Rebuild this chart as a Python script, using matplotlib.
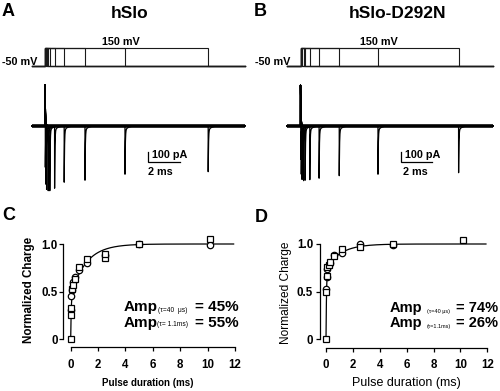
import numpy as np
import matplotlib
matplotlib.use("Agg")
import matplotlib.pyplot as plt

plt.rcParams['font.family'] = ['Liberation Sans', 'DejaVu Sans']

W, H = 500, 391
fig = plt.figure(figsize=(W / 100, H / 100), dpi=100)

# ---------------- data ----------------
pulse_durations_ms = [0.02, 0.05, 0.1, 0.2, 0.3, 0.6, 1.2, 2.5, 5.0, 10.2]
hold_mV = -50
pulse_mV = 150
tail_peak_A_pA = [-600, -640, -645, -650, -650, -625, -565, -545, -485, -460]
tail_peak_B_pA = [-520, -540, -545, -550, -545, -540, -525, -500, -485, -470]
on_peak_A_pA = 410
on_peak_B_pA = 405
tail_slow_pA = -45
tau_on_ms = 0.025
tau_tail_fast_ms = 0.02
tau_tail_slow_ms = 0.22

C_sq_t = [0, 0.02, 0.05, 0.1, 0.2, 0.3, 0.6, 1.2, 2.5, 2.5, 5.0, 10.2]
C_sq_y = [0, 0.25, 0.33, 0.53, 0.57, 0.63, 0.76, 0.84, 0.85, 0.90, 1.0, 1.05]
C_ci_t = [0.02, 0.05, 0.1, 0.2, 0.3, 0.6, 1.2, 2.5, 5.0, 10.2]
C_ci_y = [0.31, 0.45, 0.52, 0.60, 0.65, 0.73, 0.80, 0.88, 1.0, 0.99]

D_sq_t = [0, 0.02, 0.05, 0.1, 0.2, 0.3, 0.6, 1.2, 2.5, 5.0, 10.2]
D_sq_y = [0, 0.50, 0.66, 0.76, 0.78, 0.81, 0.87, 0.95, 0.97, 1.0, 1.04]
D_ci_t = [0.02, 0.05, 0.1, 0.2, 0.3, 0.6, 1.2, 2.5, 5.0]
D_ci_y = [0.53, 0.65, 0.74, 0.78, 0.80, 0.88, 0.91, 1.0, 0.99]

fit_C = (0.45, 0.04, 1.1)   # fast amplitude, tau fast (ms), tau slow (ms)
fit_D = (0.74, 0.04, 1.1)

x_ticks = [0, 2, 4, 6, 8, 10, 12]
y_ticks = [0, 0.5, 1.0]
y_ticklabels = ['0', '0.5', '1.0']


# ---------------- helpers ----------------
def px_axes(box):
    x0, x1, y0, y1 = box
    ax = fig.add_axes([x0 / W, 1 - y1 / H, (x1 - x0) / W, (y1 - y0) / H])
    return ax


def set_lims(ax, box, xa, xb, ya, yb):
    x0, x1, y0, y1 = box
    sx = (xb[1] - xa[1]) / (xb[0] - xa[0])
    ax.set_xlim(xa[0] + (x0 - xa[1]) / sx, xa[0] + (x1 - xa[1]) / sx)
    sy = (yb[1] - ya[1]) / (yb[0] - ya[0])
    ax.set_ylim(ya[0] + (y1 - ya[1]) / sy, ya[0] + (y0 - ya[1]) / sy)


def ftext(x, y, s, **kw):
    kw.setdefault('va', 'center')
    return fig.text(x / W, 1 - y / H, s, **kw)


def blank(ax):
    ax.set_axis_off()


# ---------------- titles / panel letters ----------------
ftext(2, 12, 'A', fontsize=13, fontweight='bold', ha='left')
ftext(254, 12, 'B', fontsize=13, fontweight='bold', ha='left')
ftext(2, 216, 'C', fontsize=13, fontweight='bold', ha='left')
ftext(255, 217, 'D', fontsize=13, fontweight='bold', ha='left')
ftext(130, 13, 'hSlo', fontsize=12.5, fontweight='bold', ha='center')
ftext(398, 13, 'hSlo-D292N', fontsize=12.5, fontweight='bold', ha='center')


# ---------------- voltage protocols ----------------
def protocol(box, t0px, t10px, t_start, t_end, label_150_x, label_50_right):
    ax = px_axes(box)
    blank(ax)
    set_lims(ax, box, (0, t0px), (10.2, t10px), (hold_mV, 65.7), (pulse_mV, 47.7))
    for d in pulse_durations_ms:
        t = [t_start, 0, 0, d, d, t_end]
        v = [hold_mV, hold_mV, pulse_mV, pulse_mV, hold_mV, hold_mV]
        ax.plot(t, v, color='#1a1a1a', lw=0.8, solid_joinstyle='miter')
    ftext(label_150_x, 41.7, '150 mV', fontsize=7.8, fontweight='bold', ha='center')
    ftext(label_50_right, 62.3, '-50 mV', fontsize=7.8, fontweight='bold', ha='right')


protocol((28, 250, 35, 72), 45, 208.2, -0.83, 12.5, 121, 37)
protocol((280, 498, 35, 72), 300.5, 458.6, -0.89, 12.44, 379, 290)


# ---------------- current traces ----------------
def traces(box, t0px, t10px, t_start, t_end, tails, on_peak, sb_t):
    ax = px_axes(box)
    blank(ax)
    set_lims(ax, box, (0, t0px), (10.2, t10px), (0, 125.7), (100, 115.7))
    t = np.arange(t_start, t_end, 0.002)
    ax.plot([t_start, t_end], [0, 0], color='black', lw=2.6, solid_capstyle='butt')
    for d, a in zip(pulse_durations_ms, tails):
        i = np.zeros_like(t)
        on = t >= 0
        i[on] += on_peak * np.exp(-t[on] / tau_on_ms)
        off = t >= d
        i[off] += (a - tail_slow_pA) * np.exp(-(t[off] - d) / tau_tail_fast_ms) \
            + tail_slow_pA * np.exp(-(t[off] - d) / tau_tail_slow_ms)
        ax.plot(t, i, color='black', lw=0.9)
    # scale bar
    ax.plot([sb_t, sb_t, sb_t + 2], [-266, -366, -366], color='black', lw=0.9,
            solid_joinstyle='miter')
    return ax


axA = traces((28, 250, 78, 200), 45, 208.2, -0.83, 12.5, tail_peak_A_pA, on_peak_A_pA, 6.42)
axB = traces((280, 498, 78, 200), 300.5, 458.6, -0.89, 12.44, tail_peak_B_pA, on_peak_B_pA, 6.46)
ftext(151.7, 155, '100 pA', fontsize=7.8, fontweight='bold', ha='left')
ftext(148, 171.7, '2 ms', fontsize=7.8, fontweight='bold', ha='left')
ftext(405, 155, '100 pA', fontsize=7.8, fontweight='bold', ha='left')
ftext(403, 172, '2 ms', fontsize=7.8, fontweight='bold', ha='left')


# ---------------- charge plots ----------------
def charge_panel(x0, x1, y0, y1, sq_t, sq_y, ci_t, ci_y, fit, left_out, bottom_out,
                 ylab_pad, xlab_pad):
    ax = fig.add_axes([x0 / W, 1 - y0 / H, (x1 - x0) / W, (y0 - y1) / H])
    ax.set_xlim(0, 12)
    ax.set_ylim(0, 1)
    for s in ['top', 'right']:
        ax.spines[s].set_visible(False)
    ax.spines['left'].set_position(('outward', left_out))
    ax.spines['bottom'].set_position(('outward', bottom_out))
    ax.spines['left'].set_bounds(0, 1)
    ax.spines['bottom'].set_bounds(0, 12)
    for s in ['left', 'bottom']:
        ax.spines[s].set_linewidth(0.9)
    ax.set_xticks(x_ticks)
    ax.set_yticks(y_ticks)
    ax.set_yticklabels(y_ticklabels)
    ax.tick_params(axis='both', direction='out', length=3, width=0.9, labelsize=8.3)
    ax.tick_params(axis='y', pad=ylab_pad)
    ax.tick_params(axis='x', pad=xlab_pad)
    for lab in ax.get_xticklabels() + ax.get_yticklabels():
        lab.set_fontweight('bold')
    a_fast, tau_f, tau_s = fit
    tt = np.concatenate([np.linspace(0, 0.3, 300), np.linspace(0.3, 11.9, 400)])
    yy = 1 - a_fast * np.exp(-tt / tau_f) - (1 - a_fast) * np.exp(-tt / tau_s)
    ax.plot(tt, yy, color='black', lw=0.9, clip_on=False)
    ax.plot(ci_t, ci_y, linestyle='none', marker='o', ms=4.6, mfc='white', mec='black',
            mew=0.9, clip_on=False)
    ax.plot(sq_t, sq_y, linestyle='none', marker='s', ms=4.6, mfc='white', mec='black',
            mew=0.9, clip_on=False)
    return ax


axC = charge_panel(70.7, 235, 339, 244, C_sq_t, C_sq_y, C_ci_t, C_ci_y, fit_C, 5.3, 5.5, 1.0, 6.0)
axD = charge_panel(326, 487.3, 339.3, 244, D_sq_t, D_sq_y, D_ci_t, D_ci_y, fit_D, 4.3, 6.5, 2.0, 5.0)

ftext(29.3, 290, 'Normalized Charge', fontsize=8.4, fontweight='bold', rotation=90, ha='center')
ftext(286, 292.7, 'Normalized Charge', fontsize=8.6, rotation=90, ha='center')
ftext(148, 383, 'Pulse duration (ms)', fontsize=7.0, fontweight='bold', ha='center')
ftext(406, 383, 'Pulse duration (ms)', fontsize=9, ha='center')

# Amplitude annotations
ftext(124, 307, 'Amp', fontsize=11, fontweight='bold', ha='left')
ftext(158, 310, '(τ=40  μs)', fontsize=4.8, ha='left')
ftext(195, 307, '= 45%', fontsize=11, fontweight='bold', ha='left')
ftext(124, 322.7, 'Amp', fontsize=11, fontweight='bold', ha='left')
ftext(157, 325, '(τ= 1.1ms)', fontsize=4.8, ha='left')
ftext(195, 322.7, '= 55%', fontsize=11, fontweight='bold', ha='left')

ftext(390, 307.7, 'Amp', fontsize=10.5, fontweight='bold', ha='left')
ftext(427, 311.7, '(τ=40 μs)', fontsize=4, ha='left')
ftext(456, 307.7, '= 74%', fontsize=10.5, fontweight='bold', ha='left')
ftext(390, 322.7, 'Amp', fontsize=10.5, fontweight='bold', ha='left')
ftext(427, 326.7, '(τ=1.1ms)', fontsize=4, ha='left')
ftext(456, 322.7, '= 26%', fontsize=10.5, fontweight='bold', ha='left')

fig.savefig('out.png', dpi=100)
